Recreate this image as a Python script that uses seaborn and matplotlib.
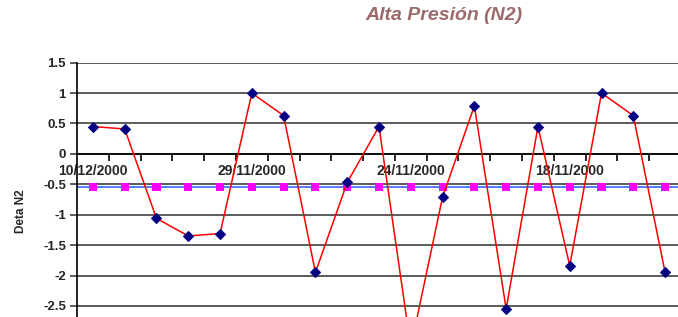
import numpy as np
import matplotlib
matplotlib.use("Agg")
import matplotlib.pyplot as plt
import seaborn as sns

# Delta N2 per sample (newest first)
delta_n2 = [0.45, 0.41, -1.06, -1.35, -1.31, 1.00, 0.63, -1.95, -0.47, 0.45,
            -3.18, -0.71, 0.79, -2.55, 0.45, -1.84, 1.00, 0.63, -1.95]
# constant reference series (pink squares / blue line)
reference = [-0.55] * len(delta_n2)
date_labels = ["10/12/2000", "29/11/2000", "24/11/2000", "18/11/2000"]
label_every = 5
y_ticks = [1.5, 1, 0.5, 0, -0.5, -1, -1.5, -2, -2.5]

sns.set_style("white")
plt.rcParams['font.family'] = ['Liberation Sans', 'DejaVu Sans']

W, H = 678, 317
fig = plt.figure(figsize=(W / 100, H / 100), dpi=100)
ax = fig.add_axes([77 / W, 1 - 366.7 / H, 604 / W, 304 / H])

idx = np.arange(len(delta_n2))

ax.axhline(reference[0], color="#3366ff", lw=1.2, zorder=2)
sns.scatterplot(x=idx, y=reference, marker="s", color="#ff00ff", s=34,
                edgecolor="none", ax=ax, zorder=3)
sns.lineplot(x=idx, y=delta_n2, color="red", lw=1.1, marker="D",
             markersize=5.5, markerfacecolor="#000080", markeredgecolor="#000080",
             ax=ax, zorder=4)

ax.set_xlim(-0.5, len(delta_n2) - 0.5)
ax.set_ylim(-3.5, 1.5)
ax.set_yticks(y_ticks)
ax.set_yticklabels([f"{v:g}" for v in y_ticks], fontweight="bold", fontsize=9.5)
ax.yaxis.grid(True, color="#404040", lw=1.2)
ax.set_axisbelow(True)
ax.tick_params(axis="y", length=5, width=1.2, color="#404040", pad=3, direction="out", left=True)

# category axis sits on y = 0
for s in ["top", "right"]:
    ax.spines[s].set_visible(False)
ax.spines["left"].set_color("black")
ax.spines["left"].set_linewidth(1.2)
ax.spines["bottom"].set_position(("data", 0))
ax.spines["bottom"].set_color("black")
ax.spines["bottom"].set_linewidth(1.2)

ax.set_xticks(idx[:-1] + 0.5)
ax.set_xticklabels([])
ax.tick_params(axis="x", which="major", length=5, width=1.2, color="black", direction="out", bottom=True)
ax.set_xticks(idx[::label_every], minor=True)
ax.set_xticklabels(date_labels, minor=True, fontweight="bold", fontsize=10)
ax.tick_params(axis="x", which="minor", length=0, pad=7)

ax.set_xlabel("")
ax.set_ylabel("Deta N2", fontweight="bold", fontsize=8.5)
ax.yaxis.set_label_coords(-0.083, 0.512)
if ax.get_legend():
    ax.get_legend().remove()

fig.text(444 / W, 1 - 16 / H, "Alta Presión (N2)", ha="center", va="center",
         fontsize=14, fontweight="bold", fontstyle="italic", color="#9c6a6a")

fig.savefig("out.png", dpi=100)
